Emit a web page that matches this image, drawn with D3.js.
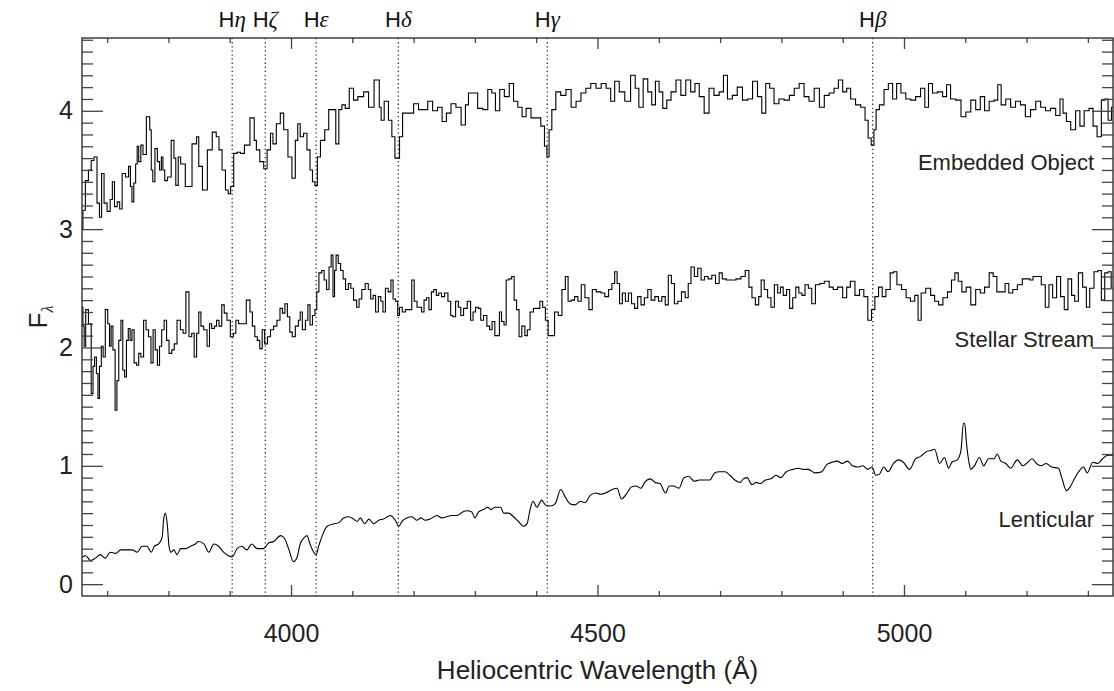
<!DOCTYPE html>
<html>
<head>
<meta charset="utf-8">
<script src="https://cdn.jsdelivr.net/npm/d3@7"></script>
<style>
	body { margin: 0; background: #fff; }
	svg { display: block; font-family: 'Liberation Sans', Arial, Helvetica, sans-serif; }
	.frame { fill: none; stroke: #333; stroke-width: 1.4; }
	.axis path { display: none; }
	.axis line { stroke: #444; stroke-width: 1.3; }
	.axis text { font-size: 25px; fill: #222; font-family: 'Liberation Sans', Arial, sans-serif; }
	.spec { fill: none; stroke: #000; stroke-width: 1.1; }
	.hline { stroke: #222; stroke-width: 1.2; stroke-dasharray: 1.3, 2.8; }
	.spec-label { font-size: 22px; fill: #222; text-anchor: end; }
	.line-label { font-size: 22px; fill: #111; text-anchor: middle; }
	.greek { font-family: 'Liberation Serif', 'DejaVu Serif', serif; font-style: italic; }
	.axis-title { font-size: 26px; fill: #222; }
</style>
</head>
<body>
<div id="chart"></div>
<script>

// spectra: [wavelength (A), flux]
var embedded = [
	[3659,3.00],[3662,3.16],[3667,3.41],[3672,3.50],[3676,3.58],[3681,3.61],[3686,3.22],[3689,3.10],[3693,3.47],[3697,3.22],
	[3703,3.15],[3707,3.25],[3710,3.40],[3714,3.19],[3719,3.23],[3722,3.17],[3727,3.47],[3733,3.44],[3737,3.53],[3739,3.36],
	[3742,3.23],[3745,3.39],[3748,3.55],[3750,3.70],[3753,3.57],[3757,3.71],[3760,3.63],[3768,3.95],[3771,3.84],[3773,3.50],
	[3776,3.40],[3780,3.68],[3784,3.57],[3787,3.50],[3790,3.61],[3792,3.50],[3796,3.41],[3801,3.44],[3808,3.75],[3810,3.60],
	[3814,3.37],[3818,3.61],[3822,3.55],[3833,3.36],[3844,3.72],[3848,3.78],[3851,3.53],[3860,3.33],[3867,3.67],[3876,3.82],
	[3880,3.78],[3885,3.67],[3890,3.50],[3896,3.33],[3899,3.30],[3904,3.36],[3909,3.64],[3915,3.65],[3920,3.64],[3928,3.71],
	[3938,3.94],[3942,3.75],[3945,3.67],[3953,3.57],[3958,3.51],[3964,3.67],[3969,3.81],[3972,3.72],[3980,3.89],[3985,3.98],
	[3991,3.84],[3999,3.61],[4004,3.43],[4010,3.75],[4012,3.89],[4018,3.78],[4023,3.81],[4029,3.67],[4033,3.50],[4037,3.40],
	[4041,3.37],[4045,3.61],[4051,3.75],[4059,3.84],[4064,4.01],[4070,4.01],[4076,3.72],[4080,4.01],[4086,4.05],[4091,4.02],
	[4099,4.19],[4105,4.09],[4113,4.12],[4124,4.16],[4129,4.03],[4142,4.26],[4146,4.03],[4148,3.92],[4156,4.08],[4162,3.92],
	[4167,3.78],[4172,3.60],[4176,3.60],[4178,3.78],[4186,3.98],[4195,3.98],[4205,4.06],[4211,4.01],[4219,4.01],[4227,4.08],
	[4235,4.00],[4243,4.03],[4250,3.91],[4257,3.98],[4265,4.06],[4273,4.03],[4282,3.88],[4287,4.05],[4292,4.15],[4300,4.15],
	[4309,4.02],[4317,4.01],[4325,4.18],[4330,4.15],[4337,4.00],[4344,4.18],[4352,4.12],[4360,4.23],[4366,4.08],[4374,4.03],
	[4380,3.95],[4387,4.02],[4396,3.94],[4404,3.94],[4411,3.87],[4416,3.70],[4419,3.61],[4423,3.84],[4428,4.01],[4436,4.16],
	[4444,4.13],[4453,4.18],[4461,4.03],[4469,4.08],[4477,4.15],[4485,4.19],[4493,4.23],[4502,4.19],[4510,4.23],[4518,4.19],
	[4525,4.08],[4531,4.25],[4540,4.16],[4549,4.08],[4559,4.30],[4564,4.19],[4571,4.03],[4578,4.27],[4586,4.16],[4591,4.05],
	[4598,4.25],[4603,4.16],[4610,4.02],[4616,4.09],[4624,4.16],[4632,4.26],[4640,4.13],[4648,4.26],[4656,4.16],[4662,4.23],
	[4670,4.12],[4678,3.98],[4686,4.19],[4694,4.13],[4703,4.16],[4708,4.30],[4716,4.10],[4724,4.13],[4732,4.20],[4741,4.09],
	[4749,4.10],[4757,4.25],[4765,4.12],[4771,3.98],[4778,4.23],[4784,4.19],[4792,4.06],[4800,4.10],[4809,4.09],[4817,4.13],
	[4825,4.19],[4833,4.23],[4841,4.12],[4849,4.08],[4858,4.19],[4866,4.03],[4874,4.13],[4882,4.15],[4890,4.19],[4896,4.26],
	[4904,4.16],[4909,4.19],[4917,4.10],[4925,4.05],[4934,4.03],[4939,3.92],[4944,3.77],[4949,3.71],[4953,3.84],[4956,4.01],
	[4964,4.05],[4971,4.18],[4978,4.23],[4985,4.10],[4991,4.23],[4999,4.15],[5007,4.10],[5015,4.09],[5023,4.12],[5031,4.19],
	[5037,4.03],[5043,4.23],[5050,4.15],[5059,4.16],[5067,4.12],[5072,4.22],[5080,4.10],[5089,4.09],[5097,3.95],[5105,3.99],
	[5113,4.09],[5121,4.01],[5128,4.12],[5135,4.00],[5143,4.08],[5151,4.09],[5155,4.22],[5162,4.05],[5170,4.10],[5178,4.03],
	[5186,4.08],[5194,4.05],[5202,3.95],[5211,4.01],[5219,4.08],[5227,4.03],[5235,4.00],[5243,4.02],[5252,3.96],[5257,4.10],
	[5262,3.98],[5268,3.91],[5276,3.84],[5284,4.00],[5290,3.87],[5298,4.00],[5306,4.02],[5311,3.87],[5319,3.78],[5325,4.09],
	[5330,4.10],[5336,3.92],[5341,4.03]
];

var stream = [
	[3659,2.34],[3662,2.18],[3663,2.01],[3667,2.32],[3672,2.20],[3676,1.61],[3678,1.84],[3681,1.92],[3684,1.78],[3686,1.57],
	[3689,1.84],[3692,2.01],[3695,1.92],[3699,2.32],[3703,2.20],[3705,2.01],[3708,2.18],[3711,1.98],[3715,1.47],[3717,1.72],
	[3721,2.06],[3724,2.23],[3727,1.81],[3730,1.75],[3733,2.06],[3736,2.16],[3739,2.06],[3742,2.15],[3746,1.87],[3750,1.85],
	[3753,1.95],[3757,1.92],[3762,2.23],[3765,2.15],[3770,2.09],[3773,1.87],[3777,2.15],[3780,1.98],[3784,1.85],[3787,2.01],
	[3791,2.15],[3795,2.23],[3799,2.06],[3803,1.95],[3808,1.98],[3811,2.03],[3817,2.23],[3822,2.15],[3826,2.12],[3831,2.47],
	[3836,2.09],[3840,2.12],[3844,1.92],[3848,2.12],[3851,2.30],[3855,2.18],[3860,2.15],[3866,2.01],[3868,2.20],[3873,2.16],
	[3877,2.18],[3880,2.23],[3885,2.18],[3889,2.36],[3893,2.29],[3898,2.23],[3904,2.09],[3908,2.12],[3912,2.23],[3917,2.20],
	[3923,2.20],[3931,2.40],[3935,2.30],[3939,2.18],[3943,2.09],[3947,2.06],[3951,1.99],[3955,2.15],[3959,2.03],[3964,2.09],
	[3969,2.15],[3974,2.18],[3980,2.23],[3984,2.33],[3988,2.29],[3992,2.37],[3996,2.26],[4000,2.13],[4004,2.09],[4010,2.18],
	[4014,2.23],[4016,2.30],[4021,2.15],[4026,2.23],[4029,2.36],[4033,2.19],[4037,2.27],[4041,2.32],[4043,2.47],[4048,2.63],
	[4052,2.65],[4056,2.57],[4060,2.49],[4064,2.68],[4067,2.78],[4070,2.43],[4072,2.65],[4075,2.78],[4079,2.71],[4083,2.65],
	[4087,2.58],[4091,2.49],[4096,2.54],[4099,2.50],[4105,2.40],[4109,2.34],[4113,2.41],[4118,2.49],[4124,2.54],[4128,2.49],
	[4132,2.41],[4136,2.44],[4140,2.30],[4145,2.43],[4148,2.39],[4152,2.30],[4156,2.50],[4161,2.47],[4165,2.57],[4168,2.41],
	[4173,2.39],[4175,2.27],[4179,2.34],[4184,2.30],[4189,2.32],[4195,2.32],[4199,2.57],[4203,2.39],[4208,2.34],
	[4211,2.34],[4215,2.30],[4219,2.40],[4223,2.42],[4227,2.32],[4231,2.47],[4235,2.49],[4239,2.44],[4243,2.46],[4248,2.43],
	[4253,2.46],[4259,2.39],[4262,2.27],[4266,2.26],[4271,2.39],[4275,2.34],[4279,2.27],[4284,2.33],[4291,2.39],[4295,2.23],
	[4299,2.30],[4303,2.34],[4308,2.33],[4311,2.23],[4317,2.27],[4322,2.18],[4326,2.15],[4330,2.22],[4335,2.10],[4339,2.10],
	[4341,2.30],[4346,2.22],[4349,2.19],[4353,2.57],[4358,2.58],[4362,2.60],[4366,2.40],[4370,2.32],[4374,2.09],[4379,2.18],
	[4384,2.10],[4387,2.15],[4393,2.30],[4398,2.33],[4404,2.33],[4408,2.39],[4413,2.34],[4417,2.23],[4422,2.10],[4427,2.10],
	[4433,2.30],[4439,2.27],[4445,2.49],[4450,2.60],[4454,2.39],[4460,2.40],[4465,2.43],[4471,2.39],[4476,2.53],[4483,2.42],
	[4489,2.32],[4494,2.49],[4502,2.47],[4509,2.46],[4515,2.43],[4521,2.49],[4526,2.54],[4530,2.64],[4534,2.54],[4538,2.37],
	[4543,2.46],[4548,2.39],[4553,2.46],[4558,2.37],[4563,2.33],[4568,2.43],[4574,2.36],[4579,2.42],[4585,2.49],[4590,2.40],
	[4597,2.43],[4602,2.39],[4608,2.43],[4613,2.36],[4618,2.61],[4623,2.54],[4628,2.37],[4634,2.39],[4640,2.47],[4646,2.42],
	[4650,2.54],[4655,2.68],[4661,2.60],[4666,2.67],[4672,2.57],[4677,2.60],[4684,2.58],[4689,2.61],[4696,2.54],[4701,2.63],
	[4706,2.58],[4714,2.57],[4722,2.57],[4730,2.58],[4738,2.60],[4744,2.65],[4750,2.51],[4754,2.42],[4761,2.36],[4765,2.43],
	[4769,2.57],[4775,2.49],[4780,2.42],[4786,2.34],[4791,2.53],[4797,2.46],[4800,2.51],[4806,2.44],[4811,2.49],[4816,2.33],
	[4821,2.42],[4826,2.51],[4831,2.46],[4836,2.44],[4841,2.53],[4847,2.50],[4852,2.37],[4859,2.53],[4866,2.54],[4874,2.56],
	[4882,2.51],[4887,2.49],[4896,2.51],[4904,2.42],[4909,2.51],[4916,2.56],[4924,2.44],[4931,2.49],[4938,2.43],[4944,2.23],
	[4950,2.32],[4955,2.43],[4962,2.51],[4967,2.43],[4974,2.49],[4981,2.63],[4985,2.64],[4992,2.53],[5000,2.49],[5007,2.42],
	[5014,2.39],[5021,2.44],[5025,2.23],[5031,2.46],[5040,2.50],[5047,2.44],[5053,2.39],[5060,2.36],[5067,2.42],[5075,2.47],
	[5080,2.57],[5086,2.63],[5091,2.56],[5098,2.47],[5105,2.51],[5113,2.36],[5121,2.49],[5128,2.46],[5135,2.51],[5143,2.63],
	[5148,2.60],[5155,2.47],[5162,2.47],[5168,2.54],[5174,2.46],[5181,2.49],[5189,2.53],[5197,2.58],[5203,2.58],[5208,2.57],
	[5213,2.60],[5221,2.60],[5227,2.53],[5234,2.34],[5239,2.53],[5246,2.42],[5252,2.60],[5259,2.43],[5264,2.32],[5271,2.58],
	[5276,2.44],[5281,2.39],[5288,2.63],[5295,2.51],[5300,2.34],[5306,2.50],[5314,2.64],[5319,2.65],[5325,2.40],[5330,2.63],
	[5336,2.64],[5340,2.51]
];

var lenticular = [
	[3657,0.22],[3665,0.24],[3673,0.20],[3681,0.22],[3689,0.25],[3697,0.22],[3705,0.27],[3714,0.26],[3722,0.29],[3733,0.29],
	[3741,0.29],[3749,0.27],[3757,0.32],[3765,0.32],[3772,0.27],[3777,0.32],[3784,0.34],[3790,0.40],[3792,0.54],[3795,0.60],
	[3798,0.51],[3801,0.32],[3804,0.27],[3809,0.29],[3814,0.25],[3820,0.30],[3828,0.30],[3836,0.32],[3844,0.34],[3849,0.36],
	[3858,0.34],[3866,0.27],[3874,0.34],[3882,0.32],[3890,0.27],[3898,0.24],[3904,0.23],[3912,0.30],[3920,0.32],[3928,0.29],
	[3936,0.34],[3945,0.30],[3955,0.30],[3964,0.35],[3972,0.36],[3983,0.41],[3989,0.39],[3996,0.30],[4004,0.19],[4010,0.23],
	[4015,0.34],[4021,0.39],[4026,0.41],[4031,0.34],[4037,0.27],[4041,0.25],[4045,0.32],[4051,0.41],[4059,0.49],[4070,0.51],
	[4078,0.52],[4086,0.56],[4094,0.57],[4102,0.55],[4108,0.53],[4113,0.56],[4120,0.51],[4127,0.55],[4135,0.51],[4143,0.54],
	[4151,0.55],[4162,0.58],[4170,0.54],[4176,0.49],[4181,0.53],[4189,0.56],[4197,0.57],[4205,0.54],[4212,0.56],[4219,0.54],
	[4227,0.55],[4238,0.58],[4246,0.56],[4254,0.57],[4262,0.58],[4271,0.58],[4280,0.61],[4287,0.62],[4295,0.61],[4300,0.56],
	[4306,0.61],[4314,0.63],[4321,0.65],[4326,0.63],[4333,0.65],[4342,0.65],[4347,0.60],[4355,0.60],[4363,0.57],[4371,0.53],
	[4379,0.49],[4385,0.51],[4390,0.63],[4395,0.70],[4401,0.65],[4409,0.71],[4415,0.67],[4423,0.66],[4431,0.68],[4440,0.80],
	[4447,0.74],[4455,0.68],[4463,0.67],[4472,0.70],[4480,0.69],[4488,0.75],[4497,0.77],[4505,0.76],[4513,0.77],[4524,0.80],
	[4532,0.81],[4539,0.72],[4547,0.76],[4555,0.82],[4563,0.83],[4571,0.81],[4577,0.86],[4586,0.89],[4594,0.86],[4602,0.85],
	[4611,0.77],[4617,0.83],[4624,0.83],[4633,0.81],[4641,0.90],[4649,0.91],[4658,0.87],[4666,0.88],[4674,0.88],[4683,0.88],
	[4691,0.94],[4699,0.95],[4708,0.95],[4716,0.92],[4724,0.88],[4733,0.86],[4738,0.89],[4744,0.90],[4752,0.84],[4759,0.86],
	[4766,0.85],[4774,0.88],[4783,0.89],[4791,0.92],[4799,0.90],[4808,0.95],[4819,0.97],[4827,0.98],[4836,0.97],[4844,0.97],
	[4855,0.94],[4866,0.95],[4874,1.01],[4883,1.03],[4891,1.04],[4899,1.02],[4908,1.04],[4916,1.00],[4924,0.99],[4933,1.00],
	[4941,0.97],[4948,0.99],[4954,0.92],[4960,0.93],[4967,0.99],[4974,0.95],[4983,1.02],[4991,1.05],[4999,1.03],[5009,0.97],
	[5019,1.06],[5027,1.08],[5037,1.12],[5044,1.13],[5050,1.14],[5058,1.02],[5066,1.07],[5073,0.98],[5078,1.03],[5087,1.05],
	[5093,1.13],[5097,1.36],[5099,1.36],[5102,1.19],[5106,1.03],[5109,0.97],[5115,1.00],[5123,1.07],[5130,1.00],[5138,1.06],
	[5147,1.06],[5152,1.10],[5158,1.04],[5166,1.02],[5174,0.98],[5185,1.05],[5194,1.00],[5200,1.02],[5209,1.06],[5216,1.02],
	[5224,1.00],[5232,1.02],[5241,0.99],[5252,0.98],[5258,0.89],[5265,0.79],[5272,0.83],[5278,0.89],[5285,0.95],[5293,0.99],
	[5299,0.94],[5308,1.03],[5316,1.02],[5324,1.06],[5333,1.09],[5341,1.09]
];

// Balmer lines (observed wavelength) and their labels
var lineWaves = [3904, 3958, 4041, 4175, 4418, 4949];
var lineNames = ['η', 'ζ', 'ε', 'δ', 'γ', 'β'];

var seriesNames = ['Embedded Object', 'Stellar Stream', 'Lenticular'];

var xDomain = [3659, 5341];
var yDomain = [-0.1, 4.615];
var xMajor = [4000, 4500, 5000];
var yMajor = [0, 1, 2, 3, 4];

var dim = { w: 1114, h: 691 };
var box = { left: 82, right: 1113, top: 38, bottom: 596 };

var svg = d3.select('#chart').append('svg')
	.attr('width', dim.w)
	.attr('height', dim.h);

var x = d3.scaleLinear().domain(xDomain).range([box.left, box.right]);
var y = d3.scaleLinear().domain(yDomain).range([box.bottom, box.top]);

var xMinor = d3.range(3700, xDomain[1], 100).filter(function (v) { return v % 500 !== 0; });
var yMinor = d3.range(1, 47).filter(function (i) { return i % 10 !== 0; }).map(function (i) { return i / 10; });

svg.append('defs').append('clipPath')
	.attr('id', 'plot-clip')
	.append('rect')
		.attr('x', box.left)
		.attr('y', box.top)
		.attr('width', box.right - box.left)
		.attr('height', box.bottom - box.top);

//dotted Balmer lines
svg.selectAll('.hline')
	.data(lineWaves)
	.enter().append('line')
	.attr('class', 'hline')
	.attr('x1', function (d) { return x(d); })
	.attr('x2', function (d) { return x(d); })
	.attr('y1', box.top)
	.attr('y2', box.bottom);

var labels = svg.selectAll('.line-label')
	.data(lineWaves)
	.enter().append('text')
	.attr('class', 'line-label')
	.attr('x', function (d) { return x(d); })
	.attr('y', 27);
labels.append('tspan').text('H');
labels.append('tspan')
	.attr('class', 'greek')
	.attr('font-size', '23px')
	.text(function (d, i) { return lineNames[i]; });

//spectra
var stepLine = d3.line()
	.x(function (d) { return x(d[0]); })
	.y(function (d) { return y(d[1]); })
	.curve(d3.curveStep);
var smoothLine = d3.line()
	.x(function (d) { return x(d[0]); })
	.y(function (d) { return y(d[1]); })
	.curve(d3.curveMonotoneX);

var specs = svg.append('g').attr('clip-path', 'url(#plot-clip)');
specs.append('path').datum(embedded).attr('class', 'spec').attr('d', stepLine);
specs.append('path').datum(stream).attr('class', 'spec').attr('d', stepLine);
specs.append('path').datum(lenticular).attr('class', 'spec').attr('d', smoothLine);

//series names
var nameY = [170, 347, 527];
seriesNames.forEach(function (name, i) {
	svg.append('text')
		.attr('class', 'spec-label')
		.attr('x', 1094)
		.attr('y', nameY[i])
		.text(name);
});

//axes: major ticks with labels, minor ticks without
function addAxis(axis, tx, ty) {
	svg.append('g')
		.attr('class', 'axis')
		.attr('transform', 'translate(' + tx + ',' + ty + ')')
		.call(axis);
}
addAxis(d3.axisBottom(x).tickValues(xMajor).tickSize(-11).tickPadding(28).tickFormat(d3.format('d')), 0, box.bottom);
addAxis(d3.axisBottom(x).tickValues(xMinor).tickSize(-5).tickFormat(''), 0, box.bottom);
addAxis(d3.axisTop(x).tickValues(xMajor).tickSize(-11).tickFormat(''), 0, box.top);
addAxis(d3.axisTop(x).tickValues(xMinor).tickSize(-5).tickFormat(''), 0, box.top);
addAxis(d3.axisLeft(y).tickValues(yMajor).tickSize(-21).tickPadding(9).tickFormat(d3.format('d')), box.left, 0);
addAxis(d3.axisLeft(y).tickValues(yMinor).tickSize(-11).tickFormat(''), box.left, 0);
addAxis(d3.axisRight(y).tickValues(yMajor).tickSize(-21).tickFormat(''), box.right, 0);
addAxis(d3.axisRight(y).tickValues(yMinor).tickSize(-11).tickFormat(''), box.right, 0);

svg.append('rect')
	.attr('class', 'frame')
	.attr('x', box.left)
	.attr('y', box.top)
	.attr('width', box.right - box.left)
	.attr('height', box.bottom - box.top);

//axis titles
svg.append('text')
	.attr('class', 'axis-title')
	.attr('x', (box.left + box.right) / 2)
	.attr('y', 679)
	.attr('text-anchor', 'middle')
	.text('Heliocentric Wavelength (Å)');

var yTitle = svg.append('text')
	.attr('class', 'axis-title')
	.attr('transform', 'translate(47,' + ((box.top + box.bottom) / 2) + ') rotate(-90)')
	.attr('text-anchor', 'middle');
yTitle.append('tspan').text('F');
yTitle.append('tspan')
	.attr('class', 'greek')
	.attr('font-size', '16px')
	.attr('font-style', 'normal')
	.attr('dy', 6)
	.text('λ');

</script>
</body>
</html>
